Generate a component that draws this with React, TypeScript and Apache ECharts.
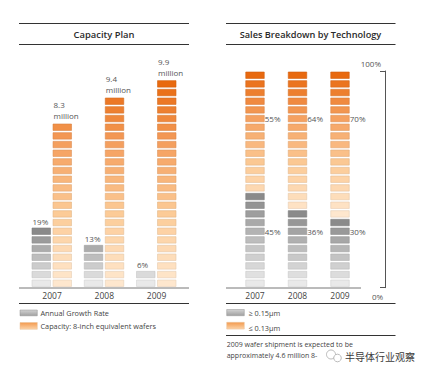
import React, { useEffect, useRef } from 'react';
import * as echarts from 'echarts';

const years = ['2007', '2008', '2009'];
const growthRate = [19, 13, 6]; // %
const growthBlocks = [7, 5, 2];
const capacityMillion = [8.3, 9.4, 9.9];
const capacityBlocks = [19, 22, 24];
const share015 = [45, 36, 30]; // >= 0.15µm, %
const share013 = [55, 64, 70]; // <= 0.13µm, %
const percentPerBlock = 4;

const FONT = '"Open Sans", "Noto Sans", sans-serif';

type Stop = [number, string];
const orangeStops: Stop[] = [
  [0, '#FEE7CE'],
  [0.35, '#FCCB97'],
  [0.68, '#F5A262'],
  [1, '#E8690F'],
];
const grayStops: Stop[] = [
  [0, '#E9E9E9'],
  [0.5, '#BDBDBD'],
  [1, '#8A8A8A'],
];

function toRgb(h: string) {
  const n = parseInt(h.slice(1), 16);
  return [(n >> 16) & 255, (n >> 8) & 255, n & 255];
}
function toHex(c: number[]) {
  return '#' + c.map((v) => Math.max(0, Math.min(255, Math.round(v))).toString(16).padStart(2, '0')).join('');
}
function mix(stops: Stop[], t: number) {
  t = Math.max(0, Math.min(1, t));
  for (let i = 1; i < stops.length; i++) {
    if (t <= stops[i][0]) {
      const [t0, c0] = stops[i - 1];
      const [t1, c1] = stops[i];
      const k = (t - t0) / (t1 - t0 || 1);
      const a = toRgb(c0), b = toRgb(c1);
      return toHex(a.map((v, j) => v + (b[j] - v) * k));
    }
  }
  return stops[stops.length - 1][1];
}
function shade(c: string, f: number) {
  return toHex(toRgb(c).map((v) => v * f));
}

const BW = 18.5;

function blockRect(x: number, y: number, h: number, color: string) {
  return {
    type: 'rect',
    shape: { x, y, width: BW, height: h },
    style: { fill: color, stroke: shade(color, 0.9), lineWidth: 0.6 },
  };
}

function txt(x: number, y: number, text: string, size: number, align: string, valign: string, extra: any = {}) {
  return {
    type: 'text',
    x,
    y,
    style: {
      text,
      fill: '#555',
      fontSize: size,
      fontFamily: FONT,
      align,
      verticalAlign: valign,
      textAlign: align,
      textVerticalAlign: valign,
      ...extra,
    },
  };
}

export default function App() {
  const ref = useRef<HTMLDivElement>(null);
  useEffect(() => {
    if (!ref.current) return;
    const chart = echarts.init(ref.current, null, { renderer: 'svg' });

    const leftData = years.map((_, i) => [i, growthBlocks[i], capacityBlocks[i]]);
    const rightData = years.map((_, i) => [i, share015[i], share013[i]]);

    const leftRender = (params: any, api: any) => {
      const idx = api.value(0);
      const base = api.coord([idx, 0]);
      const pitch = api.size([0, 1])[1];
      const h = pitch - 2.2;
      const gN = api.value(1);
      const oN = api.value(2);
      const gx = base[0] - 20;
      const ox = base[0] + 1;
      const children: any[] = [];
      for (let i = 0; i < gN; i++) {
        const y = base[1] - (i + 1) * pitch + 1;
        children.push(blockRect(gx, y, h, mix(grayStops, i / 6)));
      }
      for (let i = 0; i < oN; i++) {
        const y = base[1] - (i + 1) * pitch + 1;
        children.push(blockRect(ox, y, h, mix(orangeStops, i / 23)));
      }
      const gTop = base[1] - gN * pitch + 1;
      const oTop = base[1] - oN * pitch + 1;
      children.push(txt(gx + 0.5, gTop - 7, growthRate[params.dataIndex] + '%', 8, 'left', 'middle'));
      children.push(
        txt(ox + 0.5, oTop - 3, capacityMillion[params.dataIndex].toFixed(1) + '\nmillion', 8, 'left', 'bottom', {
          lineHeight: 11,
        })
      );
      return { type: 'group', children };
    };

    const rightRender = (params: any, api: any) => {
      const idx = api.value(0);
      const base = api.coord([idx, 0]);
      const pitch = api.size([0, percentPerBlock])[1];
      const h = pitch - 2.2;
      const gPct = api.value(1);
      const oPct = api.value(2);
      const gN = Math.round(gPct / percentPerBlock);
      const total = Math.round((gPct + oPct) / percentPerBlock);
      const x = base[0] - BW / 2;
      const children: any[] = [];
      for (let i = 0; i < total; i++) {
        const y = base[1] - (i + 1) * pitch + 1;
        const color =
          i < gN ? mix(grayStops, gN > 1 ? i / (gN - 1) : 1) : mix(orangeStops, (i - 8) / 16);
        children.push(blockRect(x, y, h, color));
      }
      // labels: 6th block from the top and 7th block from the bottom
      const yOrange = base[1] - (total - 5 - 0.5) * pitch;
      const yGray = base[1] - 6.5 * pitch;
      children.push(txt(x + BW + 0.5, yOrange, oPct + '%', 8, 'left', 'middle'));
      children.push(txt(x + BW + 0.5, yGray, gPct + '%', 8, 'left', 'middle'));
      return { type: 'group', children };
    };

    const line = (x1: number, y1: number, x2: number, y2: number, stroke = '#333', w = 1) => ({
      type: 'line',
      shape: { x1, y1, x2, y2 },
      style: { stroke, lineWidth: w },
      silent: true,
    });

    const swatch = (x: number, y: number, w: number, h: number, top: string, bottom: string) => ({
      type: 'rect',
      shape: { x, y, width: w, height: h },
      style: {
        fill: new echarts.graphic.LinearGradient(0, 0, 0, 1, [
          { offset: 0, color: top },
          { offset: 1, color: bottom },
        ]),
        stroke: shade(bottom, 0.92),
        lineWidth: 0.5,
      },
    });

    const gtext = (x: number, y: number, text: string, size: number, extra: any = {}) => ({
      type: 'text',
      x,
      y,
      style: {
        text,
        fill: '#444',
        fontSize: size,
        fontFamily: FONT,
        align: 'left',
        verticalAlign: 'middle',
        textAlign: 'left',
        textVerticalAlign: 'middle',
        ...extra,
      },
    });

    const graphic: any[] = [
      // left panel frame lines
      line(19, 23.5, 189, 23.5),
      line(19, 44.5, 189, 44.5),
      line(19, 288, 189, 288, '#777'),
      line(19, 303.5, 189, 303.5),
      // right panel frame lines
      line(226, 23.5, 395.5, 23.5),
      line(226, 44.5, 395.5, 44.5),
      line(226, 288, 361, 288, '#777'),
      line(226, 303.5, 395.5, 303.5),
      line(226, 335.5, 395.5, 335.5),
      // titles
      gtext(104, 34.5, 'Capacity Plan', 9.4, { align: 'center', textAlign: 'center', fill: '#2a2a2a', fontWeight: 600 }),
      gtext(310.5, 34.5, 'Sales Breakdown by Technology', 9.2, {
        align: 'center',
        textAlign: 'center',
        fill: '#2a2a2a',
        fontWeight: 600,
      }),
      // right axis labels
      gtext(381, 63, '100%', 8, { align: 'right', textAlign: 'right', fill: '#555' }),
      gtext(372, 296.5, '0%', 8, { fill: '#555' }),
      // left legend
      swatch(20, 310, 17.3, 5.8, '#D2D2D2', '#A0A0A0'),
      gtext(40.5, 312.5, 'Annual Growth Rate', 7.3),
      swatch(20, 322.5, 17.3, 6.8, '#F39A4E', '#FCD3A8'),
      gtext(40.5, 325.5, 'Capacity: 8-inch equivalent wafers', 7.3),
      // right legend
      swatch(226.7, 309.5, 17.6, 6.2, '#D2D2D2', '#A0A0A0'),
      gtext(248.5, 312.7, '≥ 0.15µm', 7.3),
      swatch(226.7, 322.3, 17.6, 6.8, '#F39A4E', '#FCD3A8'),
      gtext(248.5, 328, '≤ 0.13µm', 7.3),
      // note
      gtext(226.7, 344, '2009 wafer shipment is expected to be', 7),
      gtext(226.7, 355.5, 'approximately 4.6 million 8-', 7),
      // watermark
      {
        type: 'circle',
        shape: { cx: 331, cy: 354.5, r: 4.5 },
        style: { fill: '#fff', stroke: '#aaa', lineWidth: 0.8 },
      },
      {
        type: 'circle',
        shape: { cx: 337.5, cy: 358, r: 3.8 },
        style: { fill: '#fff', stroke: '#aaa', lineWidth: 0.8 },
      },
      gtext(345, 356.5, '半导体行业观察', 10, {
        fill: '#3a3a3a',
        fontFamily: '"Noto Sans CJK SC", sans-serif',
        stroke: '#ffffff',
        lineWidth: 2,
      }),
    ];

    chart.setOption({
      animation: false,
      backgroundColor: '#fff',
      grid: [
        { left: 25.9, width: 156.75, top: 71, height: 216.67 },
        { left: 233.75, width: 127.5, top: 71, height: 216.67 },
      ],
      xAxis: [0, 1].map((g) => ({
        type: 'category',
        gridIndex: g,
        data: years,
        axisLine: { show: false },
        axisTick: { show: false },
        axisLabel: { fontSize: 8.5, color: '#444', fontFamily: FONT, margin: 3 },
      })),
      yAxis: [
        { type: 'value', gridIndex: 0, min: 0, max: 25, show: false },
        {
          type: 'value',
          gridIndex: 1,
          min: 0,
          max: 100,
          interval: 100,
          position: 'right',
          offset: 23.75,
          axisLine: { show: true, lineStyle: { color: '#555', width: 1 } },
          axisTick: { show: true, inside: true, length: 5, lineStyle: { color: '#555' } },
          axisLabel: { show: false },
          splitLine: { show: false },
        },
      ],
      series: [
        {
          type: 'custom',
          xAxisIndex: 0,
          yAxisIndex: 0,
          data: leftData,
          renderItem: leftRender,
          encode: { x: 0, y: [1, 2] },
        },
        {
          type: 'custom',
          xAxisIndex: 1,
          yAxisIndex: 1,
          data: rightData,
          renderItem: rightRender,
          encode: { x: 0, y: [1, 2] },
        },
      ],
      graphic,
    });
    return () => chart.dispose();
  }, []);
  return (
    <div
      ref={ref}
      style={{ position: 'fixed', left: 0, top: 0, width: 428, height: 375, background: '#fff' }}
    />
  );
}
